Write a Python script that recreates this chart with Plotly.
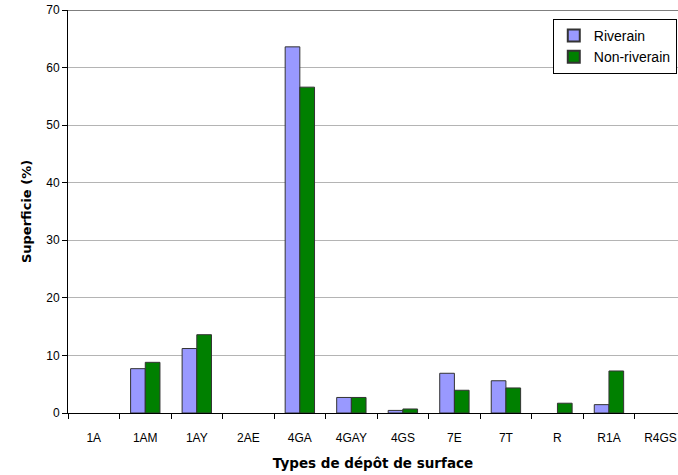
import plotly.graph_objects as go

categories = ["1A", "1AM", "1AY", "2AE", "4GA", "4GAY", "4GS", "7E", "7T", "R", "R1A", "R4GS"]
riverain = [0, 7.7, 11.2, 0, 63.6, 2.7, 0.45, 6.9, 5.6, 0, 1.45, 0]
non_riverain = [0, 8.8, 13.6, 0, 56.6, 2.7, 0.7, 3.95, 4.35, 1.7, 7.3, 0]
y_ticks = [0, 10, 20, 30, 40, 50, 60, 70]


def outline(values):
    return [0 if v == 0 else 1 for v in values]


fig = go.Figure()
fig.add_trace(go.Bar(x=categories, y=riverain, name="Riverain",
                     marker=dict(color="#9999FF",
                                 line=dict(color="#333333", width=outline(riverain)))))
fig.add_trace(go.Bar(x=categories, y=non_riverain, name="Non-riverain",
                     marker=dict(color="#008000",
                                 line=dict(color="#333333", width=outline(non_riverain)))))

fig.update_layout(
    width=678, height=475,
    margin=dict(l=68, r=0, t=10, b=62),
    paper_bgcolor="white", plot_bgcolor="white",
    barmode="group", bargap=0.43, bargroupgap=0,
    font=dict(family="Liberation Sans, Arial", size=12, color="#000000"),
    legend=dict(x=0.998, y=0.978, xanchor="right", yanchor="top",
                bordercolor="#000000", borderwidth=1, bgcolor="white",
                font=dict(size=14), itemsizing="constant", tracegroupgap=2),
    xaxis=dict(
        range=[-0.5, 11.34], showgrid=False, showline=True, linecolor="#000000", linewidth=1,
        ticks="outside", tickson="boundaries", ticklen=5, tickcolor="#000000",
        ticklabelstandoff=14,
        title=dict(text="Types de dépôt de surface", standoff=14,
                   font=dict(family="DejaVu Sans", size=13.5, color="#000000", weight="bold")),
    ),
    yaxis=dict(
        range=[0, 70], tickvals=y_ticks, showgrid=True, gridcolor="#B4B4B4", gridwidth=1,
        showline=True, linecolor="#000000", linewidth=1, zeroline=False,
        ticks="outside", ticklen=5, tickcolor="#000000",
        title=dict(text="Superficie (%)", standoff=11,
                   font=dict(family="DejaVu Sans", size=13, color="#000000", weight="bold")),
    ),
)
fig.add_shape(type="line", xref="paper", yref="y", x0=0, x1=1, y0=70, y1=70,
              line=dict(color="#000000", width=1))

fig.write_html("out.html", config={"displayModeBar": False},
               post_script="document.body.style.margin='0';document.body.style.overflow='hidden';")
